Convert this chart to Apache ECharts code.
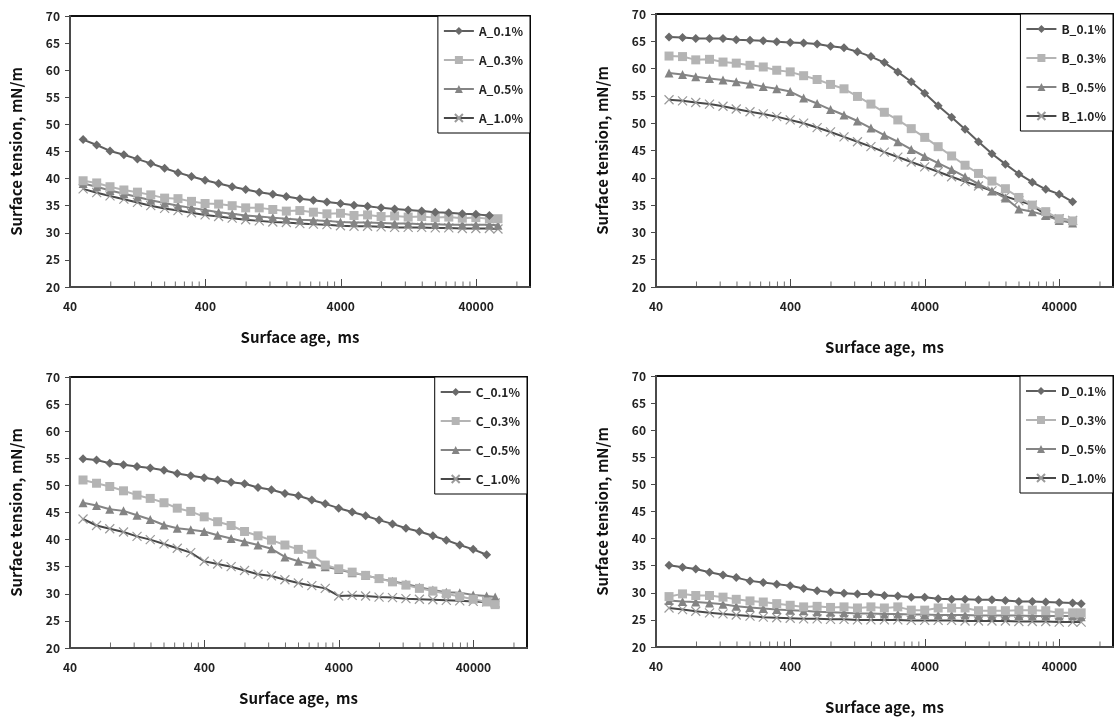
<!DOCTYPE html>
<html>
<head>
<meta charset="utf-8">
<title>Surface tension vs surface age</title>
<script src="https://cdn.jsdelivr.net/npm/echarts@6/dist/echarts.min.js"></script>
<style>
  html, body { margin: 0; padding: 0; background: #fff; }
  #chart { width: 1115px; height: 721px; }
</style>
</head>
<body>
<div id="chart"></div>
<script>
// 표면 나이 (ms)
const ages = [50, 63, 79, 100, 126, 158, 200, 251, 316, 398, 501, 631, 794, 1000, 1259, 1585,
  1995, 2512, 3162, 3981, 5012, 6310, 7943, 10000, 12589, 15849, 19953, 25119, 31623, 39811, 50119, 58000]

// x 축 눈금
const xTickLabels = [40, 400, 4000, 40000]
const xMinorSteps = [2, 3, 4, 5, 6, 7, 8, 9]
const xMin = 40
const xMax = 100000

// 시리즈 이름
const levels = ['0.1%', '0.3%', '0.5%', '1.0%']

// A
const A01 = [47.2, 46.2, 45.1, 44.4, 43.6, 42.8, 41.9, 41.1, 40.4, 39.7, 39.1, 38.5, 38.0, 37.5, 37.1, 36.7,
  36.3, 36.0, 35.7, 35.4, 35.1, 34.9, 34.6, 34.4, 34.2, 34.0, 33.8, 33.7, 33.5, 33.4, 33.2]
const A03 = [39.6, 39.2, 38.5, 37.9, 37.5, 37.0, 36.4, 36.3, 35.8, 35.4, 35.3, 35.0, 34.6, 34.6, 34.3, 34.0,
  34.1, 33.8, 33.5, 33.6, 33.2, 33.3, 33.0, 33.1, 32.9, 33.0, 32.8, 32.9, 32.7, 32.8, 32.6, 32.6]
const A05 = [39.1, 38.5, 37.8, 37.2, 36.6, 36.0, 35.5, 35.0, 34.6, 34.2, 33.8, 33.5, 33.2, 33.0, 32.8, 32.6,
  32.4, 32.3, 32.2, 32.0, 31.9, 31.9, 31.8, 31.7, 31.7, 31.6, 31.6, 31.5, 31.5, 31.5, 31.5, 31.4]
const A10 = [38.1, 37.4, 36.8, 36.2, 35.6, 35.0, 34.5, 34.1, 33.7, 33.3, 33.0, 32.7, 32.4, 32.2, 32.0, 31.9,
  31.7, 31.6, 31.5, 31.3, 31.2, 31.2, 31.1, 31.0, 31.0, 31.0, 30.9, 30.9, 30.8, 30.8, 30.8, 30.7]

// B
const B01 = [65.8, 65.7, 65.5, 65.5, 65.5, 65.3, 65.2, 65.1, 64.9, 64.8, 64.7, 64.5, 64.1, 63.8, 63.1, 62.2,
  61.1, 59.4, 57.6, 55.5, 53.2, 51.1, 48.9, 46.6, 44.4, 42.5, 40.7, 39.2, 37.9, 37.0, 35.6]
const B03 = [62.3, 62.2, 61.6, 61.7, 61.2, 61.0, 60.6, 60.3, 59.7, 59.4, 58.7, 58.0, 57.1, 56.3, 54.9, 53.5,
  52.0, 50.6, 49.0, 47.4, 45.7, 44.0, 42.3, 40.8, 39.4, 38.0, 36.4, 35.0, 33.8, 32.5, 32.1]
const B05 = [59.2, 58.9, 58.5, 58.2, 57.9, 57.6, 57.2, 56.7, 56.3, 55.8, 54.6, 53.6, 52.5, 51.5, 50.4, 49.1,
  47.8, 46.6, 45.2, 43.9, 42.7, 41.5, 40.2, 38.9, 37.6, 36.3, 34.3, 33.8, 33.1, 32.2, 31.7]
const B10 = [54.3, 54.1, 53.8, 53.5, 53.1, 52.6, 52.1, 51.7, 51.2, 50.6, 50.0, 49.2, 48.4, 47.5, 46.6, 45.7,
  44.7, 43.8, 42.9, 42.0, 41.1, 40.2, 39.3, 38.5, 37.6, 36.6, 35.8, 35.0, 33.2, 32.5, 32.2]

// C
const C01 = [54.9, 54.7, 54.1, 53.8, 53.5, 53.2, 52.8, 52.2, 51.8, 51.4, 51.0, 50.6, 50.3, 49.6, 49.2, 48.5,
  48.1, 47.3, 46.6, 45.8, 45.1, 44.4, 43.6, 42.9, 42.1, 41.5, 40.7, 39.9, 39.0, 38.2, 37.2]
const C03 = [51.0, 50.4, 49.8, 49.0, 48.2, 47.6, 46.8, 45.8, 45.2, 44.2, 43.3, 42.6, 41.5, 40.7, 39.9, 39.0,
  38.2, 37.3, 35.3, 34.6, 34.0, 33.4, 32.8, 32.2, 31.6, 31.0, 30.5, 30.0, 29.5, 29.0, 28.5, 28.0]
const C05 = [46.8, 46.3, 45.6, 45.3, 44.5, 43.7, 42.7, 42.1, 41.8, 41.5, 40.8, 40.2, 39.6, 39.0, 38.3, 36.8,
  36.0, 35.5, 35.0, 34.5, 33.9, 33.4, 32.8, 32.3, 31.8, 31.2, 30.7, 30.3, 30.2, 29.8, 29.6, 29.4]
const C10 = [43.8, 42.6, 42.0, 41.4, 40.6, 40.0, 39.2, 38.4, 37.6, 36.0, 35.5, 35.0, 34.3, 33.6, 33.3, 32.6,
  32.0, 31.5, 31.0, 29.6, 29.7, 29.6, 29.4, 29.3, 29.1, 29.0, 28.9, 28.8, 28.7, 28.6, 28.5, 28.3]

// D
const D01 = [35.1, 34.7, 34.4, 33.8, 33.3, 32.8, 32.2, 31.9, 31.6, 31.3, 30.8, 30.4, 30.1, 29.9, 29.8, 29.8,
  29.5, 29.4, 29.2, 29.2, 28.9, 28.8, 28.8, 28.7, 28.7, 28.6, 28.4, 28.4, 28.3, 28.2, 28.1, 28.0]
const D03 = [29.3, 29.8, 29.5, 29.5, 29.2, 28.8, 28.5, 28.3, 28.0, 27.7, 27.4, 27.5, 27.3, 27.4, 27.2, 27.4,
  27.2, 27.4, 26.8, 26.8, 27.2, 27.2, 27.2, 26.7, 26.7, 26.7, 26.8, 26.8, 26.7, 26.3, 26.3, 26.3]
const D05 = [28.6, 28.4, 28.3, 28.1, 27.9, 27.5, 27.3, 27.1, 26.9, 26.8, 26.7, 26.5, 26.4, 26.3, 26.2, 26.2,
  26.1, 26.1, 26.0, 26.0, 25.9, 25.9, 25.9, 25.8, 25.8, 25.8, 25.8, 25.7, 25.7, 25.7, 25.7, 25.6]
const D10 = [27.2, 26.9, 26.6, 26.3, 26.1, 25.9, 25.7, 25.5, 25.4, 25.3, 25.2, 25.2, 25.1, 25.1, 25.0, 25.0,
  25.0, 25.0, 24.9, 24.9, 24.9, 24.9, 24.8, 24.8, 24.8, 24.8, 24.7, 24.7, 24.7, 24.6, 24.6, 24.6]

const panels = [
  { key: 'A', data: [A01, A03, A05, A10], left: 70, top: 16, width: 460, height: 271, nameGap: 43 },
  { key: 'B', data: [B01, B03, B05, B10], left: 656, top: 14, width: 457, height: 273, nameGap: 53 },
  { key: 'C', data: [C01, C03, C05, C10], left: 70, top: 377, width: 457, height: 271, nameGap: 43 },
  { key: 'D', data: [D01, D03, D05, D10], left: 656, top: 376, width: 457, height: 271, nameGap: 53 },
]

const font = '"Noto Sans CJK KR", "Open Sans", sans-serif'

// 마커 스타일
const seriesStyle = [
  { symbol: 'diamond', size: 9, line: '#5e5e5e', fill: '#6a6a6a' },
  { symbol: 'rect', size: 9, line: '#b4b4b4', fill: '#b4b4b4' },
  { symbol: 'triangle', size: 9, line: '#848484', fill: '#848484' },
  { symbol: 'path://M0,0L10,10M10,0L0,10', size: 9, line: '#484848', fill: '#9a9a9a', cross: true },
]

// 로그 좌표 변환
const toX = (age) => Math.log10(age / xMin)

const minorTicks = []
xTickLabels.forEach((d) => {
  xMinorSteps.forEach((m) => {
    if (d * m <= xMax) minorTicks.push([toX(d * m), 20])
  })
})

const grid = []
const xAxis = []
const yAxis = []
const series = []
const legend = []

panels.forEach((p, i) => {
  grid.push({
    left: p.left, top: p.top, width: p.width, height: p.height,
    show: true, borderColor: '#111', borderWidth: 2, backgroundColor: '#fff',
  })

  xAxis.push({
    type: 'value',
    gridIndex: i,
    min: 0,
    max: toX(xMax),
    interval: 1,
    name: 'Surface age,  ms',
    nameLocation: 'middle',
    nameGap: p.nameGap,
    nameTextStyle: { fontFamily: font, fontWeight: 'bold', fontSize: 15, color: '#111' },
    axisLine: { lineStyle: { color: '#4a4a4a', width: 2 } },
    axisTick: { inside: true, length: 8, lineStyle: { color: '#4a4a4a' } },
    axisLabel: {
      margin: 13,
      showMaxLabel: false,
      fontFamily: font, fontWeight: 'bold', fontSize: 12, color: '#222',
      formatter: (v) => {
        const k = Math.round(v)
        return Math.abs(v - k) < 1e-6 && xTickLabels[k] !== undefined ? String(xTickLabels[k]) : ''
      },
    },
    splitLine: { show: false },
  })

  yAxis.push({
    type: 'value',
    gridIndex: i,
    min: 20,
    max: 70,
    interval: 5,
    name: 'Surface tension, mN/m',
    nameLocation: 'middle',
    nameGap: 46,
    nameTextStyle: { fontFamily: font, fontWeight: 'bold', fontSize: 15, color: '#111' },
    axisLine: { show: true, lineStyle: { color: '#4a4a4a', width: 2 } },
    axisTick: { show: true, length: 5, lineStyle: { color: '#4a4a4a' } },
    axisLabel: { margin: 10, fontFamily: font, fontWeight: 'bold', fontSize: 12, color: '#222' },
    splitLine: { show: false },
  })

  const names = levels.map((l) => p.key + '_' + l)

  p.data.forEach((values, s) => {
    const st = seriesStyle[s]
    series.push({
      name: names[s],
      type: 'line',
      xAxisIndex: i,
      yAxisIndex: i,
      data: values.map((v, k) => [toX(ages[k]), v]),
      symbol: st.symbol,
      symbolSize: st.size,
      showSymbol: true,
      lineStyle: { color: st.line, width: 2 },
      itemStyle: st.cross
        ? { color: 'rgba(0,0,0,0)', borderColor: st.fill, borderWidth: 1.2 }
        : { color: st.fill, borderWidth: 0 },
      z: 4 - s,
      animation: false,
    })
  })

  // 보조 눈금
  series.push({
    type: 'scatter',
    xAxisIndex: i,
    yAxisIndex: i,
    data: minorTicks,
    symbol: 'rect',
    symbolSize: [1, 5],
    symbolOffset: [0, -3],
    itemStyle: { color: '#4a4a4a' },
    silent: true,
    clip: false,
    animation: false,
  })

  legend.push({
    data: names,
    orient: 'vertical',
    right: 1115 - (p.left + p.width),
    top: p.top,
    align: 'left',
    itemWidth: 30,
    itemHeight: 10,
    itemGap: 17,
    padding: [9, 7, 9, 5],
    borderColor: '#000',
    borderWidth: 1,
    backgroundColor: '#fff',
    selectedMode: false,
    textStyle: { fontFamily: font, fontWeight: 'bold', fontSize: 12, color: '#222' },
  })
})

const chart = echarts.init(document.getElementById('chart'))
chart.setOption({
  backgroundColor: '#fff',
  animation: false,
  grid,
  xAxis,
  yAxis,
  series,
  legend,
})
</script>
</body>
</html>
